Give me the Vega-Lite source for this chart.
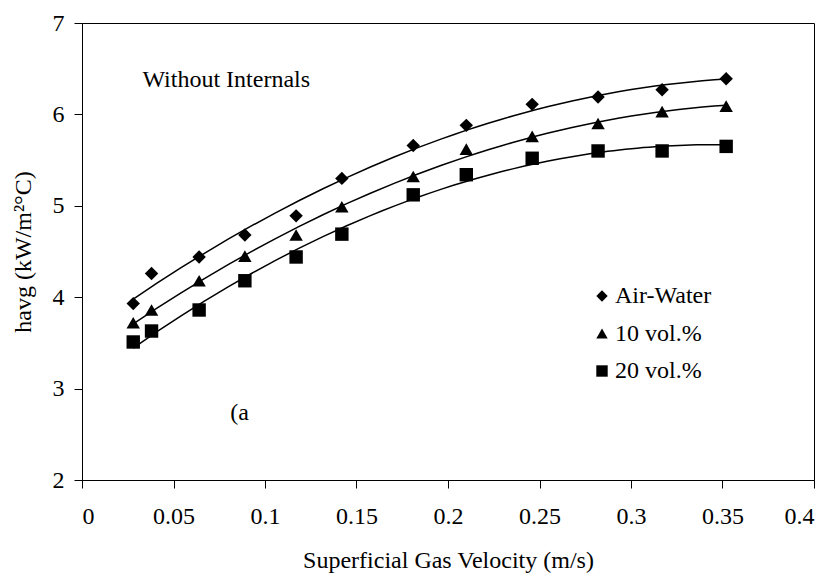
{
  "$schema": "https://vega.github.io/schema/vega-lite/v6.json",
  "width": 732,
  "height": 457,
  "autosize": {"type": "none"},
  "padding": {"left": 82, "top": 23, "right": 18, "bottom": 93},
  "background": "white",
  "config": {
    "font": "Liberation Serif",
    "view": {"stroke": "black", "strokeWidth": 1},
    "axis": {
      "grid": false,
      "domainColor": "black",
      "tickColor": "black",
      "labelColor": "black",
      "titleColor": "black",
      "labelFont": "Liberation Serif",
      "titleFont": "Liberation Serif",
      "labelFontSize": 24,
      "titleFontSize": 24,
      "titleFontWeight": "normal",
      "tickSize": 8
    }
  },
  "datasets": {
    "pts": [
      {"v": 0.028, "h": 3.93, "series": "Air-Water"},
      {"v": 0.038, "h": 4.26, "series": "Air-Water"},
      {"v": 0.064, "h": 4.44, "series": "Air-Water"},
      {"v": 0.089, "h": 4.68, "series": "Air-Water"},
      {"v": 0.117, "h": 4.89, "series": "Air-Water"},
      {"v": 0.142, "h": 5.30, "series": "Air-Water"},
      {"v": 0.181, "h": 5.66, "series": "Air-Water"},
      {"v": 0.210, "h": 5.88, "series": "Air-Water"},
      {"v": 0.246, "h": 6.11, "series": "Air-Water"},
      {"v": 0.282, "h": 6.19, "series": "Air-Water"},
      {"v": 0.317, "h": 6.27, "series": "Air-Water"},
      {"v": 0.352, "h": 6.39, "series": "Air-Water"},
      {"v": 0.028, "h": 3.72, "series": "10 vol.%"},
      {"v": 0.038, "h": 3.86, "series": "10 vol.%"},
      {"v": 0.064, "h": 4.18, "series": "10 vol.%"},
      {"v": 0.089, "h": 4.45, "series": "10 vol.%"},
      {"v": 0.117, "h": 4.68, "series": "10 vol.%"},
      {"v": 0.142, "h": 4.99, "series": "10 vol.%"},
      {"v": 0.181, "h": 5.32, "series": "10 vol.%"},
      {"v": 0.210, "h": 5.62, "series": "10 vol.%"},
      {"v": 0.246, "h": 5.76, "series": "10 vol.%"},
      {"v": 0.282, "h": 5.90, "series": "10 vol.%"},
      {"v": 0.317, "h": 6.03, "series": "10 vol.%"},
      {"v": 0.352, "h": 6.09, "series": "10 vol.%"},
      {"v": 0.028, "h": 3.51, "series": "20 vol.%"},
      {"v": 0.038, "h": 3.63, "series": "20 vol.%"},
      {"v": 0.064, "h": 3.86, "series": "20 vol.%"},
      {"v": 0.089, "h": 4.18, "series": "20 vol.%"},
      {"v": 0.117, "h": 4.44, "series": "20 vol.%"},
      {"v": 0.142, "h": 4.69, "series": "20 vol.%"},
      {"v": 0.181, "h": 5.12, "series": "20 vol.%"},
      {"v": 0.210, "h": 5.34, "series": "20 vol.%"},
      {"v": 0.246, "h": 5.52, "series": "20 vol.%"},
      {"v": 0.282, "h": 5.60, "series": "20 vol.%"},
      {"v": 0.317, "h": 5.60, "series": "20 vol.%"},
      {"v": 0.352, "h": 5.65, "series": "20 vol.%"}
    ],
    "notes": [
      {"v": 0.033, "h": 6.30, "label": "Without Internals"},
      {"v": 0.081, "h": 2.66, "label": "(a"}
    ]
  },
  "layer": [
    {
      "data": {"name": "pts"},
      "transform": [
        {"regression": "h", "on": "v", "groupby": ["series"], "method": "poly", "order": 2, "extent": [0.028, 0.352]}
      ],
      "mark": {"type": "line", "color": "black", "strokeWidth": 1.5},
      "encoding": {
        "x": {"field": "v", "type": "quantitative"},
        "y": {"field": "h", "type": "quantitative"},
        "detail": {"field": "series"}
      }
    },
    {
      "data": {"name": "pts"},
      "mark": {"type": "point", "filled": true, "color": "black", "opacity": 1, "size": 180},
      "encoding": {
        "x": {
          "field": "v", "type": "quantitative",
          "scale": {"domain": [0, 0.4], "nice": false, "zero": false},
          "axis": {"values": [0, 0.05, 0.1, 0.15, 0.2, 0.25, 0.3, 0.35, 0.4], "format": "~g", "title": "Superficial Gas Velocity (m/s)", "titlePadding": 20, "labelPadding": 16}
        },
        "y": {
          "field": "h", "type": "quantitative",
          "scale": {"domain": [2, 7], "nice": false, "zero": false},
          "axis": {"values": [2, 3, 4, 5, 6, 7], "format": "~g", "title": "havg (kW/m²°C)", "titlePadding": 17, "labelPadding": 10}
        },
        "shape": {
          "field": "series", "type": "nominal",
          "scale": {"domain": ["Air-Water", "10 vol.%", "20 vol.%"], "range": ["diamond", "triangle-up", "square"]},
          "legend": {
            "title": null,
            "orient": "none",
            "legendX": 508,
            "legendY": 261,
            "labelFont": "Liberation Serif",
            "labelFontSize": 24,
            "labelColor": "black",
            "symbolFillColor": "black",
            "symbolStrokeColor": "black",
            "symbolSize": 130,
            "labelOffset": 1,
            "rowPadding": 13.5
          }
        }
      }
    },
    {
      "data": {"name": "notes"},
      "mark": {"type": "text", "align": "left", "baseline": "alphabetic", "font": "Liberation Serif", "fontSize": 24, "color": "black"},
      "encoding": {
        "x": {"field": "v", "type": "quantitative"},
        "y": {"field": "h", "type": "quantitative"},
        "text": {"field": "label"}
      }
    }
  ]
}
